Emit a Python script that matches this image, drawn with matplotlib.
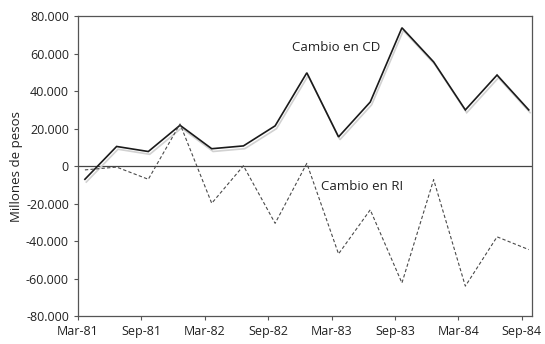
import matplotlib
matplotlib.use("Agg")
import matplotlib.pyplot as plt
import matplotlib.patheffects as pe
from matplotlib.ticker import FuncFormatter

# quarterly data, Mar-81 .. Sep-84
quarters = ["Mar-81", "Jun-81", "Sep-81", "Dec-81", "Mar-82", "Jun-82", "Sep-82", "Dec-82",
            "Mar-83", "Jun-83", "Sep-83", "Dec-83", "Mar-84", "Jun-84", "Sep-84"]
cambio_cd = [-7000, 10500, 7800, 21800, 9300, 10800, 21500, 49800,
             15600, 34200, 73800, 55600, 30000, 48600, 30000]
cambio_ri = [-2000, -500, -7000, 22500, -19800, 200, -30500, 1500,
             -46800, -23300, -62300, -7200, -64000, -37700, -44500]
tick_labels = ["Mar-81", "Sep-81", "Mar-82", "Sep-82", "Mar-83", "Sep-83", "Mar-84", "Sep-84"]
y_ticks = [-80000, -60000, -40000, -20000, 0, 20000, 40000, 60000, 80000]

plt.rcParams['font.family'] = ['Open Sans', 'DejaVu Sans']

fig = plt.figure(figsize=(5.45, 3.44), dpi=100)
ax = fig.add_axes([0.143, 0.081, 0.833, 0.872])

x = list(range(len(quarters)))
ax.plot(x, cambio_cd, color="#1a1a1a", lw=1.2, solid_joinstyle="miter",
        path_effects=[pe.SimpleLineShadow(offset=(1, -2), shadow_color="0.82", alpha=1), pe.Normal()])
ax.plot(x, cambio_ri, color="#4a4a4a", lw=0.8, linestyle=(0, (3, 2)))

ax.axhline(0, color="#444444", lw=0.9, zorder=0)

ax.text(0.568, 0.897, "Cambio en CD", transform=ax.transAxes, fontsize=9.5, ha="center", va="center", color="#222222")
ax.text(0.626, 0.433, "Cambio en RI", transform=ax.transAxes, fontsize=9.5, ha="center", va="center", color="#222222")

tick_pos = [quarters.index(t) - 0.22 for t in tick_labels]
ax.set_xticks(tick_pos)
ax.set_xticklabels(tick_labels)
ax.set_xlim(-0.22, 14.1)
ax.set_ylim(-80000, 80000)
ax.set_yticks(y_ticks)
ax.yaxis.set_major_formatter(FuncFormatter(lambda v, p: f"{int(v):,}".replace(",", ".")))
ax.set_ylabel("Millones de pesos", fontsize=9.5, color="#222222", labelpad=2)

ax.tick_params(axis="both", labelsize=9, colors="#555555", labelcolor="#222222", length=3, width=0.8)
for s in ax.spines.values():
    s.set_color("#555555")
    s.set_linewidth(0.9)

fig.savefig("out.png", dpi=100)
